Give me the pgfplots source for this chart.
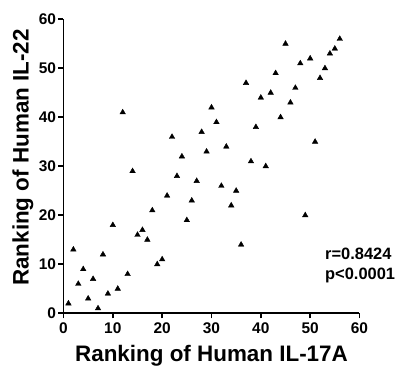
\documentclass[border=0pt]{standalone}
\usepackage{fontspec}
\setmainfont{Liberation Sans}
\usepackage{pgfplots}
\pgfplotsset{compat=1.18}
\begin{document}
\begin{tikzpicture}
\begin{axis}[
  at={(0,0)}, anchor=south west,
  scale only axis, width=296bp, height=294bp,
  xmin=0, xmax=60, ymin=0, ymax=60,
  xtick={0,10,...,60}, ytick={0,10,...,60},
  axis x line=bottom, axis y line=left,
  axis line style={-, line width=1.6bp},
  tick align=outside, major tick length=5bp,
  every tick/.style={black, line width=1.6bp},
  tick label style={font=\fontsize{15.5}{16}\selectfont\bfseries},
  /pgf/number format/assume math mode=true,
  yticklabel style={xshift=1bp},
  xticklabel style={yshift=-1bp},
  xlabel={Ranking of Human IL-17A},
  ylabel={Ranking of Human IL-22},
  label style={font=\fontsize{22.5}{24}\selectfont\bfseries},
  xlabel style={at={(axis description cs:0.5,-0.165)}, anchor=base},
  ylabel style={at={(axis description cs:-0.118,0.53)}, anchor=base},
  clip=false,
]
\addplot[only marks, mark=triangle*, mark size=3.2bp, black] coordinates {
(1,2) (2,13) (3,6) (4,9) (5,3) (6,7) (7,1) (8,12) (9,4) (10,18)
(11,5) (12,41) (13,8) (14,29) (15,16) (16,17) (17,15) (18,21) (19,10) (20,11)
(21,24) (22,36) (23,28) (24,32) (25,19) (26,23) (27,27) (28,37) (29,33) (30,42)
(31,39) (32,26) (33,34) (34,22) (35,25) (36,14) (37,47) (38,31) (39,38) (40,44)
(41,30) (42,45) (43,49) (44,40) (45,55) (46,43) (47,46) (48,51) (49,20) (50,52)
(51,35) (52,48) (53,50) (54,53) (55,54) (56,56)
};
\node[anchor=base west, inner sep=0pt, font=\fontsize{16.5}{18}\selectfont\bfseries] at (axis cs:53.0,10.9) {r=0.8424};
\node[anchor=base west, inner sep=0pt, font=\fontsize{16.5}{18}\selectfont\bfseries] at (axis cs:53.0,6.8) {p<0.0001};
\end{axis}
\pgfresetboundingbox
\path[use as bounding box] (-63.5bp,-53.7bp) rectangle (334.5bp,313.3bp);
\end{tikzpicture}
\end{document}
